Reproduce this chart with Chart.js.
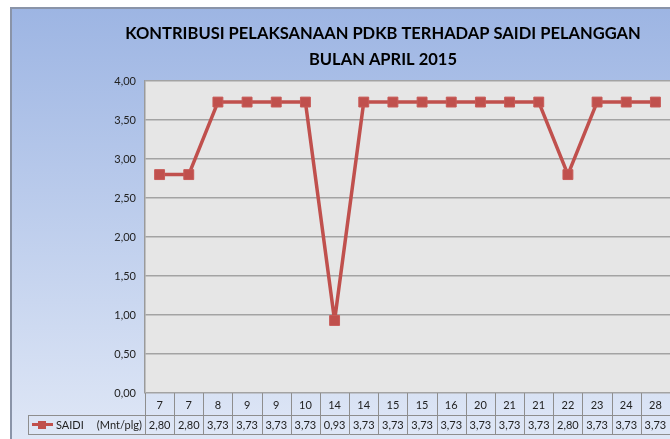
<!DOCTYPE html>
<html><head><meta charset="utf-8">
<script src="https://cdn.jsdelivr.net/npm/chart.js@4"></script>
<style>html,body{margin:0;padding:0;background:#fff;overflow:hidden}</style>
</head><body>
<canvas id="c" width="670" height="439"></canvas>
<script>
const titleLines = ['KONTRIBUSI PELAKSANAAN PDKB TERHADAP SAIDI PELANGGAN', 'BULAN APRIL 2015'];
const categories = ['7','7','8','9','9','10','14','14','15','15','16','20','21','21','22','23','24','28'];
const saidi = [2.80,2.80,3.73,3.73,3.73,3.73,0.93,3.73,3.73,3.73,3.73,3.73,3.73,3.73,2.80,3.73,3.73,3.73];
const seriesName = 'SAIDI';
const seriesUnit = '(Mnt/plg)';
const yMin = 0, yMax = 4, yStep = 0.5;

const fmt = v => Number(v).toFixed(2).replace('.', ',');
const FONT = 'Lato, "Open Sans", sans-serif';
const LINE = '#c0504d';

const decor = {
  id: 'decor',
  beforeDraw(chart) {
    const ctx = chart.ctx, W = chart.width, H = chart.height, a = chart.chartArea;
    ctx.save();
    ctx.fillStyle = '#ffffff';
    ctx.fillRect(0, 0, W, H);
    const g = ctx.createLinearGradient(0, 8, 0, H);
    g.addColorStop(0, '#9db5e3');
    g.addColorStop(1, '#dfe7f6');
    ctx.fillStyle = g;
    ctx.fillRect(11, 8, W, H);
    ctx.strokeStyle = '#8a94a8';
    ctx.lineWidth = 2;
    ctx.beginPath();
    ctx.moveTo(11, H + 5); ctx.lineTo(11, 8); ctx.lineTo(W + 5, 8);
    ctx.stroke();
    ctx.fillStyle = '#e6e6e6';
    ctx.fillRect(a.left, a.top, a.right - a.left, a.bottom - a.top);
    // title
    ctx.fillStyle = '#000';
    ctx.textAlign = 'center';
    ctx.textBaseline = 'middle';
    let fs = 17;
    ctx.font = 'bold ' + fs + 'px ' + FONT;
    const w = ctx.measureText(titleLines[0]).width;
    fs = fs * 516 / w;
    ctx.font = 'bold ' + fs.toFixed(2) + 'px ' + FONT;
    ctx.fillText(titleLines[0], 383, 34);
    ctx.fillText(titleLines[1], 383, 60);
    ctx.restore();
  },
  afterDraw(chart) {
    const ctx = chart.ctx, a = chart.chartArea, xs = chart.scales.x;
    const n = categories.length;
    const step = (xs.getPixelForValue(1) - xs.getPixelForValue(0));
    const r1top = a.bottom, r1bot = 415, r2bot = 434, legL = 28;
    ctx.save();
    ctx.strokeStyle = '#8e8e8e';
    ctx.lineWidth = 1;
    ctx.beginPath();
    for (let i = 0; i <= n; i++) {
      const x = Math.round(xs.getPixelForValue(0) - step / 2 + i * step) + 0.5;
      ctx.moveTo(x, r1top); ctx.lineTo(x, r2bot);
    }
    ctx.moveTo(legL + 0.5, r1bot); ctx.lineTo(legL + 0.5, r2bot);
    ctx.moveTo(legL, r1bot + 0.5); ctx.lineTo(chart.width + 2, r1bot + 0.5);
    ctx.moveTo(legL, r2bot + 0.5); ctx.lineTo(chart.width + 2, r2bot + 0.5);
    ctx.stroke();
    ctx.fillStyle = '#222';
    ctx.font = '11px ' + FONT;
    ctx.textAlign = 'center';
    ctx.textBaseline = 'middle';
    const ds = chart.data.datasets[0].data;
    for (let i = 0; i < n; i++) {
      const x = xs.getPixelForValue(i);
      ctx.fillText(chart.data.labels[i], x, 405);
      ctx.fillText(fmt(ds[i]), x, 425);
    }
    // legend key
    ctx.strokeStyle = LINE; ctx.lineWidth = 3;
    ctx.beginPath(); ctx.moveTo(32, 424.5); ctx.lineTo(53, 424.5); ctx.stroke();
    ctx.fillStyle = LINE; ctx.fillRect(38, 421, 8, 8);
    ctx.fillStyle = '#222';
    ctx.textAlign = 'left';
    ctx.fillText(seriesName, 56, 425);
    ctx.textAlign = 'right';
    ctx.fillText(seriesUnit, 142, 425);
    ctx.restore();
  }
};

new Chart(document.getElementById('c'), {
  type: 'line',
  data: {
    labels: categories,
    datasets: [{
      label: seriesName,
      data: saidi,
      borderColor: LINE,
      backgroundColor: LINE,
      borderWidth: 3.5,
      borderJoinStyle: 'round',
      pointStyle: 'rect',
      pointRadius: 7,
      pointBorderWidth: 1,
      pointBorderColor: '#c85a57',
      pointBackgroundColor: LINE,
      tension: 0,
      clip: false
    }]
  },
  options: {
    responsive: false,
    animation: false,
    devicePixelRatio: 1,
    layout: { autoPadding: false, padding: { top: 81, left: 10, right: 0, bottom: 46 } },
    plugins: { legend: { display: false }, tooltip: { enabled: false }, title: { display: false } },
    scales: {
      x: { type: 'category', offset: true, display: false, grid: { display: false } },
      y: {
        min: yMin, max: yMax,
        afterFit(s) { s.width = 135; },
        ticks: { stepSize: yStep, callback: v => fmt(v), color: '#222', font: { family: FONT, size: 11 }, padding: 9 },
        grid: { color: '#a3a3a3', lineWidth: 1.5, drawTicks: false },
        border: { display: true, color: '#9a9a9a', width: 1.5 }
      }
    }
  },
  plugins: [decor]
});
</script>
</body></html>
